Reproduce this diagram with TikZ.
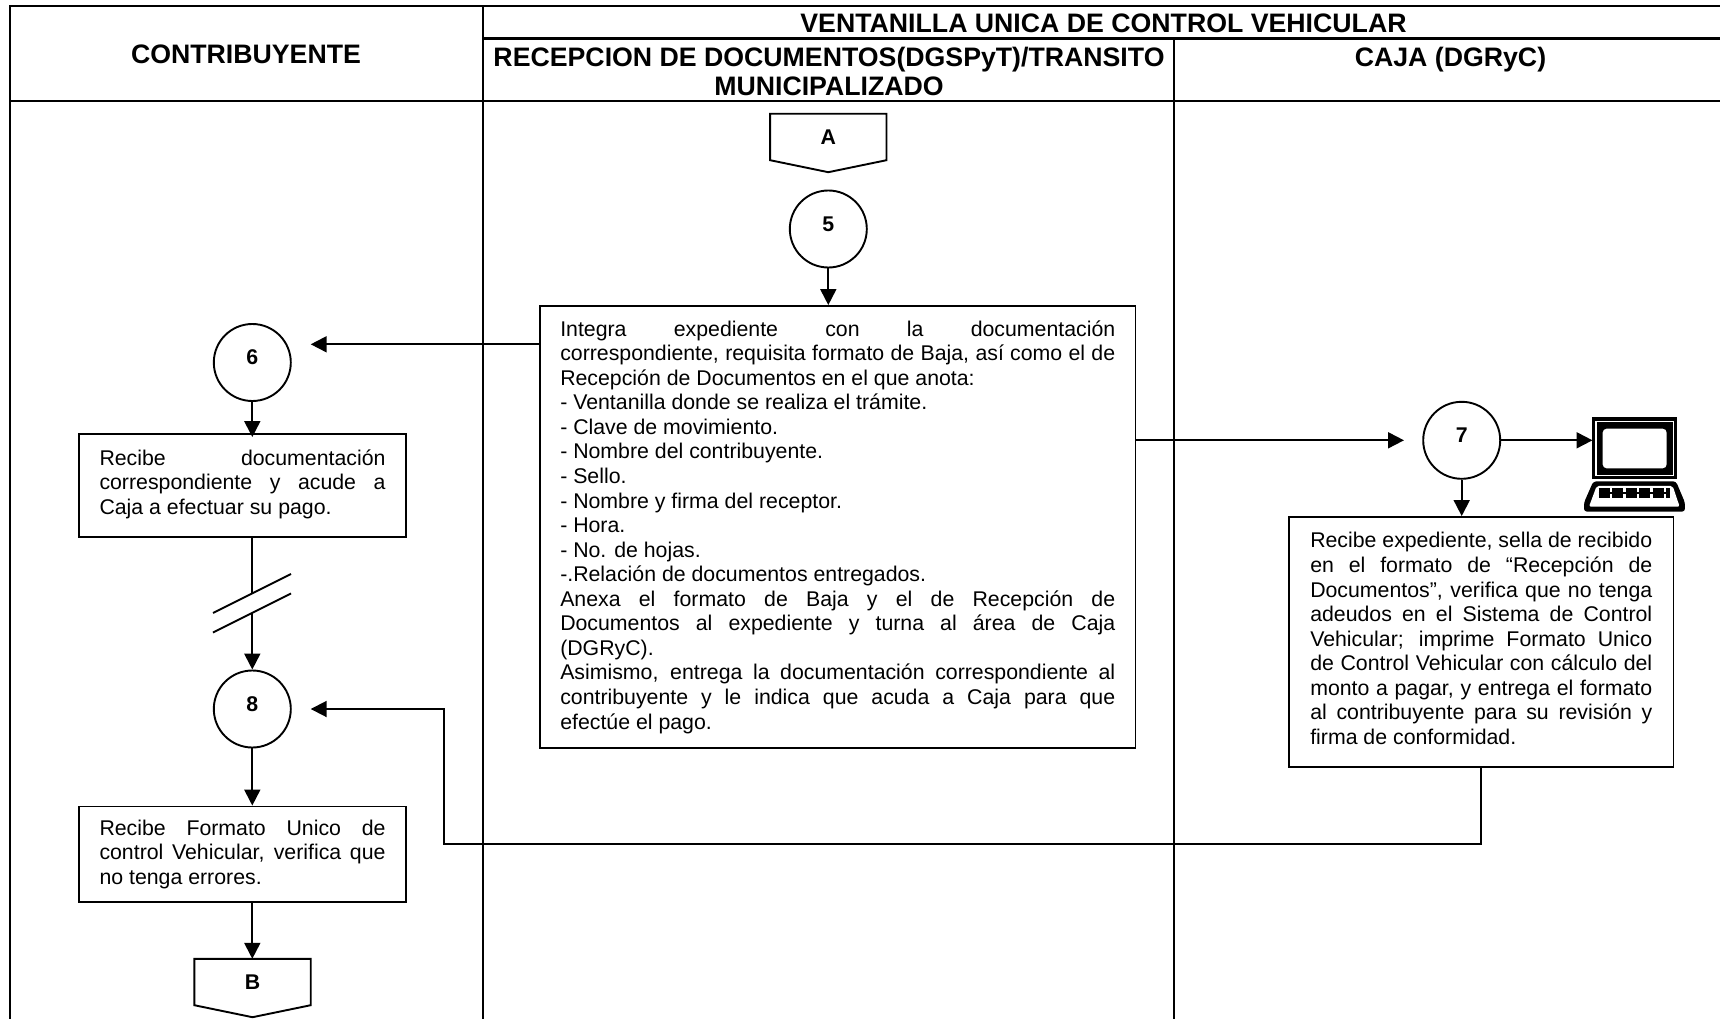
\documentclass[tikz,border=0pt]{standalone}
\usepackage{fontspec}
\setmainfont{Liberation Sans}
\usetikzlibrary{arrows.meta,calc}
\tikzset{
  x=1pt,y=-1pt,
  frame/.style={line width=2.2pt,line cap=rect},
  conn/.style={line width=1.9pt,-{Triangle[length=16pt,width=16pt]}},
  plain/.style={line width=1.9pt},
  hdr/.style={font=\fontsize{26.7}{28.6}\selectfont\bfseries,align=center,inner sep=0pt},
  circ/.style={circle,draw,line width=1.9pt,minimum size=77pt,inner sep=0pt,font=\fontsize{21.3}{24}\selectfont\bfseries},
  tbox/.style={draw,line width=1.9pt,inner ysep=0pt,align=justify,font=\fontsize{21.3}{24.55}\selectfont},
  offp/.style={minimum width=116pt,minimum height=46pt,inner sep=0pt,font=\fontsize{21.3}{24}\selectfont\bfseries},
  offd/.style={line width=1.9pt,line join=miter}
}
\newcommand{\offshape}[1]{\draw[offd] (#1.south west) -- (#1.north west) -- (#1.north east) -- (#1.south east) -- ($(#1.south)+(0,12)$) -- cycle;}
\newcommand{\up}[1]{\raisebox{-2pt}[0pt][0pt]{#1}}
\newcommand{\lift}[1]{\par\nointerlineskip\hbox{\rule{0pt}{#1}}}
\begin{document}
\begin{tikzpicture}
\useasboundingbox (0,0) rectangle (1720,1019);
% frame
\draw[frame] (10,1019) -- (10,6) -- (1720,6);
\draw[frame] (483,6) -- (483,1019);
\draw[frame] (1174,38.5) -- (1174,1019);
\draw[frame] (483,38.5) -- (1720,38.5);
\draw[frame] (10,101) -- (1720,101);
% headers
\node[hdr] (h0) at (246,54) {CONTRIBUYENTE};
\node[hdr] (h1) at (1103.5,23) {VENTANILLA UNICA DE CONTROL VEHICULAR};
\node[hdr] (h2) at (829,71.5) {RECEPCION DE DOCUMENTOS(DGSPyT)/TRANSITO\\MUNICIPALIZADO};
\node[hdr] (h3) at (1450.5,59.5) {CAJA (DGRyC)};
% off-page A
\node[offp] (A) at (828.3,137) {A};
\offshape{A}
\node[circ] (c5) at (828.3,229) {\up{5}};
\node[tbox,inner xsep=20.25pt,text width=555pt,minimum height=442pt] (main) at (837.75,527) {%
\hyphenpenalty=10000 Integra expediente con la documentación\linebreak
correspondiente, requisita formato de Baja, así como el de\linebreak
Recepción de Documentos en el que anota:\\
- Ventanilla donde se realiza el trámite.\\
- Clave de movimiento.\\
- Nombre del contribuyente.\\
- Sello.\\
- Nombre y firma del receptor.\\
- Hora.\\
- No. de hojas.\\
-.Relación de documentos entregados.\\
Anexa el formato de Baja y el de Recepción de\linebreak
Documentos al expediente y turna al área de Caja\linebreak
(DGRyC).\\
Asimismo, entrega la documentación correspondiente al\linebreak
contribuyente y le indica que acuda a Caja para que\linebreak
efectúe el pago.};
\node[circ] (c6) at (252.3,362.5) {\up{6}};
\node[tbox,inner xsep=20.5pt,text width=286pt,minimum height=103pt] (b6) at (242.5,485.5) {%
\hyphenpenalty=10000 Recibe documentación\linebreak
correspondiente y acude a\linebreak
Caja a efectuar su pago.\lift{3pt}};
\node[circ] (c8) at (252.3,709) {\up{8}};
\node[tbox,inner xsep=20.5pt,text width=286pt,minimum height=95.5pt] (b8) at (242.5,854.25) {%
\hyphenpenalty=10000 Recibe Formato Unico de\linebreak
control Vehicular, verifica que\linebreak
no tenga errores.};
\node[offp] (B) at (252.5,982) {B};
\offshape{B}
\node[circ] (c7) at (1461.7,440.3) {\up{7}};
\node[tbox,inner xsep=21.25pt,text width=342pt,minimum height=250pt] (b7) at (1481.25,642) {%
\hyphenpenalty=10000 Recibe expediente, sella de recibido\linebreak
en el formato de “Recepción de\linebreak
Documentos”, verifica que no tenga\linebreak
adeudos en el Sistema de Control\linebreak
Vehicular; imprime Formato Unico\linebreak
de Control Vehicular con cálculo del\linebreak
monto a pagar, y entrega el formato\linebreak
al contribuyente para su revisión y\linebreak
firma de conformidad.\lift{7pt}};
% computer
\coordinate (pc) at (1592.5,440.3);
\begin{scope}[shift={(1380,380)},x=0.3333pt,y=-0.3333pt]
\fill[black] (636,112) rectangle (892,296);
\draw[white,line width=1.3pt] (648,124) rectangle (880,287);
\fill[black,rounded corners=5pt] (652,129) rectangle (876,281);
\fill[white,rounded corners=4pt] (668,146) rectangle (860,265);
\fill[black,rounded corners=3pt] (640,304) -- (888,304) -- (915,368) -- (915,395) -- (612,395) -- (612,368) -- cycle;
\fill[white,rounded corners=2pt] (650,318) -- (878,318) -- (899,380) -- (627,380) -- cycle;
\draw[line width=3.4pt,dash pattern=on 11pt off 2.5pt] (656,330) -- (870,330);
\draw[line width=3.4pt,dash pattern=on 11pt off 2.5pt] (656,348) -- (870,348);
\draw[line width=2pt] (656,339) -- (870,339);
\end{scope}
% connectors
\draw[conn] (c5) -- (main.north -| c5);
\coordinate (t6) at (310.7,344.3);
\draw[conn] (main.west |- t6) -- (t6);
\coordinate (t7) at (1404,440.3);
\draw[conn] (main.east |- t7) -- (t7);
\draw[conn,shorten >=-4pt] (c6) -- (c6 |- b6.north);
\coordinate (s1) at (252.3,593.5);
\coordinate (s2) at (252.3,613);
\draw[plain] (c6 |- b6.south) -- (s1);
\draw[conn] (s2) -- (c8.north);
\coordinate (w1) at (213,613);
\coordinate (e1) at (291,574);
\coordinate (w2) at (213,632.5);
\coordinate (e2) at (291,593.5);
\draw[plain] (w1) -- (e1);
\draw[plain] (w2) -- (e2);
\draw[conn] (c8) -- (c8 |- b8.north);
\draw[conn] (c8 |- b8.south) -- (c8 |- B.north);
\draw[conn] (c7) -- (c7 |- b7.north);
\draw[conn] (c7) -- (pc);
\coordinate (t8) at (310.7,709);
\coordinate (k1) at (444,843.7);
\draw[conn] (b7.south) |- (k1) |- (t8);
\end{tikzpicture}
\end{document}
